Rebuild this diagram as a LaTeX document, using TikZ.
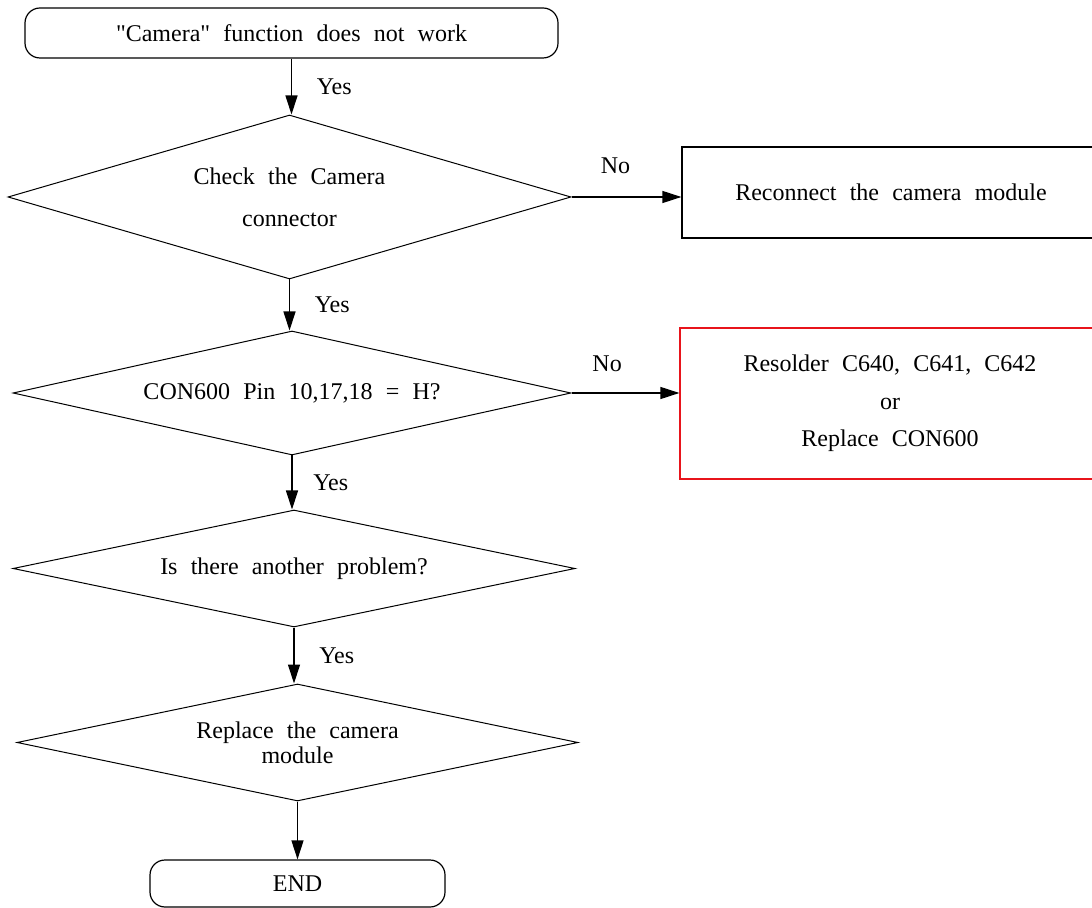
\documentclass[tikz,border=0pt]{standalone}
\usepackage{fontspec}
\setmainfont{Liberation Serif}[Ligatures=TeXOff]
\usepackage{tikz}
\usetikzlibrary{arrows.meta, positioning, shapes.geometric}
\definecolor{flowInk}{HTML}{000000}
\definecolor{flowRed}{HTML}{E8141B}
\newcommand{\flowFont}{\fontsize{12}{14}\selectfont\spaceskip=0.55em plus 0.1em\relax}

\begin{document}
\begin{tikzpicture}[
    x=0.5pt, y=-0.5pt,
    every node/.style={
        font=\flowFont,
        text=flowInk
    },
    terminal/.style={
        rectangle,
        rounded corners=7.5pt,
        draw=flowInk,
        line width=0.6pt,
        align=center
    },
    decision/.style={
        diamond,
        draw=flowInk,
        line width=0.5pt,
        inner sep=0pt,
        aspect=3.4,
        align=center
    },
    action/.style={
        rectangle,
        draw=flowInk,
        line width=0.6pt,
        align=center
    },
    arrow/.style={
        -{Triangle[length=9.5pt, width=6pt]},
        line width=0.6pt,
        draw=flowInk
    }
]
\useasboundingbox (0,0) rectangle (1092,908);

% Main check sequence
\node[terminal, minimum width=266.5pt, minimum height=25pt] (start) at (291.5,33) {"Camera" function does not work};
\node[decision, minimum width=281.5pt, minimum height=82pt] (connector) at (289.5,197) {Check the Camera\\[7pt]connector};
\node[decision, minimum width=279pt, minimum height=62pt] (pins) at (292,393) {CON600 Pin 10,17,18 = H?};
\node[decision, minimum width=281pt, minimum height=58.5pt] (another) at (294,568.5) {Is there another problem?};
\node[decision, minimum width=280.5pt, minimum height=58.5pt] (replace) at (297.5,742.5) {Replace the camera\\[-1.5pt]module};
\node[terminal, minimum width=147.5pt, minimum height=23.5pt] (end) at (297.5,883.5) {END};

% Repair actions
\node[action, minimum width=209pt, minimum height=45.5pt] (reconnect) at (891,192.5) {Reconnect the camera module};
\node[action, draw=flowRed, minimum width=210pt, minimum height=75.5pt] (resolder) at (890,403.5) {Resolder C640, C641, C642\\[4.75pt]or\\[4.75pt]Replace CON600};

% Main arrows
\draw[arrow] (start.south) -- node[right=9pt] {Yes} (start.south |- connector.north);
\draw[arrow] (connector.south) -- node[right=9pt] {Yes} (connector.south |- pins.north);
\draw[arrow] (pins.south) -- node[right=7pt] {Yes} (pins.south |- another.north);
\draw[arrow] (another.south) -- node[right=9pt] {Yes} (another.south |- replace.north);
\draw[arrow] (replace.south) -- (replace.south |- end.north);

% Repair branches
\draw[arrow] (connector.east) -- node[above=8pt, pos=0.4] {No} (reconnect.west |- connector.east);
\draw[arrow] (pins.east) -- node[above=7pt, pos=0.33] {No} (resolder.west |- pins.east);

\end{tikzpicture}
\end{document}
